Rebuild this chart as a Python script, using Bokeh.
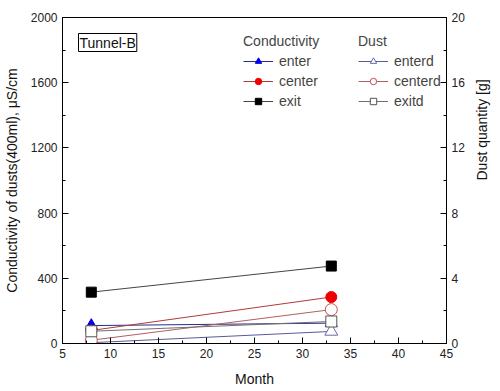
import math
from bokeh.plotting import figure
from bokeh.models import (Range1d, LinearAxis, SingleIntervalTicker, Legend, LegendItem, Label)
from bokeh.embed import file_html
from bokeh.resources import INLINE

months = [8, 33]
enter = [110, 125]
center = [80, 285]
exit_ = [315, 475]
enterd = [0.05, 0.74]
centerd = [0.2, 2.08]
exitd = [0.75, 1.35]

FONT = "Liberation Sans"

p = figure(width=500, height=391, output_backend="svg", toolbar_location=None,
           x_range=Range1d(5, 45), y_range=Range1d(0, 2000),
           min_border_left=62, min_border_right=43, min_border_top=17, min_border_bottom=48)
p.extra_y_ranges = {"dust": Range1d(0, 20)}
p.xgrid.visible = False
p.ygrid.visible = False
p.outline_line_color = "black"
p.outline_line_width = 1
p.background_fill_color = "white"

def style_axis(ax):
    ax.major_tick_in = 6
    ax.major_tick_out = 0
    ax.minor_tick_in = 3
    ax.minor_tick_out = 0
    ax.axis_line_color = "black"
    ax.major_label_text_font = FONT
    ax.major_label_text_font_size = "12px"
    ax.major_label_text_color = "#222222"
    ax.axis_label_text_font = FONT
    ax.axis_label_text_font_size = "14px"
    ax.axis_label_text_font_style = "normal"
    ax.axis_label_text_color = "#111111"

p.xaxis.ticker = SingleIntervalTicker(interval=5, num_minor_ticks=2)
p.xaxis.axis_label = "Month"
p.xaxis.axis_label_standoff = 10
p.yaxis.ticker = SingleIntervalTicker(interval=400, num_minor_ticks=2)
p.yaxis.axis_label = "Conductivity of dusts(400ml), \u03bcS/cm"
p.yaxis.axis_label_standoff = 8
style_axis(p.xaxis[0])
style_axis(p.yaxis[0])

rax = LinearAxis(y_range_name="dust", ticker=SingleIntervalTicker(interval=4, num_minor_ticks=2),
                 axis_label="Dust quantity [g]")
style_axis(rax)
rax.axis_label_standoff = 14
rax.axis_label_orientation = math.pi / 2
p.add_layout(rax, "right")

# conductivity
l1 = p.line(months, enter, line_color="#2a2a8a", line_width=1)
l2 = p.line(months, center, line_color="#b03a3a", line_width=1)
l3 = p.line(months, exit_, line_color="#444444", line_width=1)
# dust lines
l4 = p.line(months, enterd, y_range_name="dust", line_color="#5a5a9a", line_width=1)
l5 = p.line(months, centerd, y_range_name="dust", line_color="#b06060", line_width=1)
l6 = p.line(months, exitd, y_range_name="dust", line_color="#707070", line_width=1)

s1 = p.scatter(months, enter, marker="triangle", size=12, fill_color="#0000ee", line_color="#0000ee")
s2 = p.scatter(months, center, marker="circle", size=11, fill_color="#ee0000", line_color="#ee0000")
s3 = p.scatter(months, exit_, marker="square", size=10, fill_color="black", line_color="black")
s4 = p.scatter(months, enterd, y_range_name="dust", marker="triangle", size=13, fill_color="white", line_color="#6a6aa8")
s5 = p.scatter(months, centerd, y_range_name="dust", marker="circle", size=12, fill_color="white", line_color="#c05050")
s6 = p.scatter(months, exitd, y_range_name="dust", marker="square", size=11, fill_color="white", line_color="#555555")

def mk_legend(items, title, loc):
    lg = Legend(items=items, title=title, location=loc, orientation="vertical",
                background_fill_alpha=0, border_line_alpha=0,
                label_text_font=FONT, label_text_font_size="14px",
                title_text_font=FONT, title_text_font_size="14px", title_text_font_style="normal",
                title_standoff=4, glyph_width=30, glyph_height=16, label_height=16,
                label_standoff=6, spacing=4, padding=0, margin=0)
    return lg

leg1 = mk_legend([LegendItem(label="enter", renderers=[l1, s1]),
                  LegendItem(label="center", renderers=[l2, s2]),
                  LegendItem(label="exit", renderers=[l3, s3])], "Conductivity", (181, 234))
leg2 = mk_legend([LegendItem(label="enterd", renderers=[l4, s4]),
                  LegendItem(label="centerd", renderers=[l5, s5]),
                  LegendItem(label="exitd", renderers=[l6, s6])], "Dust", (296, 234))
p.add_layout(leg1)
p.add_layout(leg2)

p.add_layout(Label(x=16, y=292, x_units="screen", y_units="screen", text="Tunnel-B",
                   text_font=FONT, text_font_size="14px", text_color="#111111",
                   border_line_color="black", border_line_width=1, padding=1,
                   background_fill_color="white"))

open("out.html", "w").write(file_html(p, INLINE))
